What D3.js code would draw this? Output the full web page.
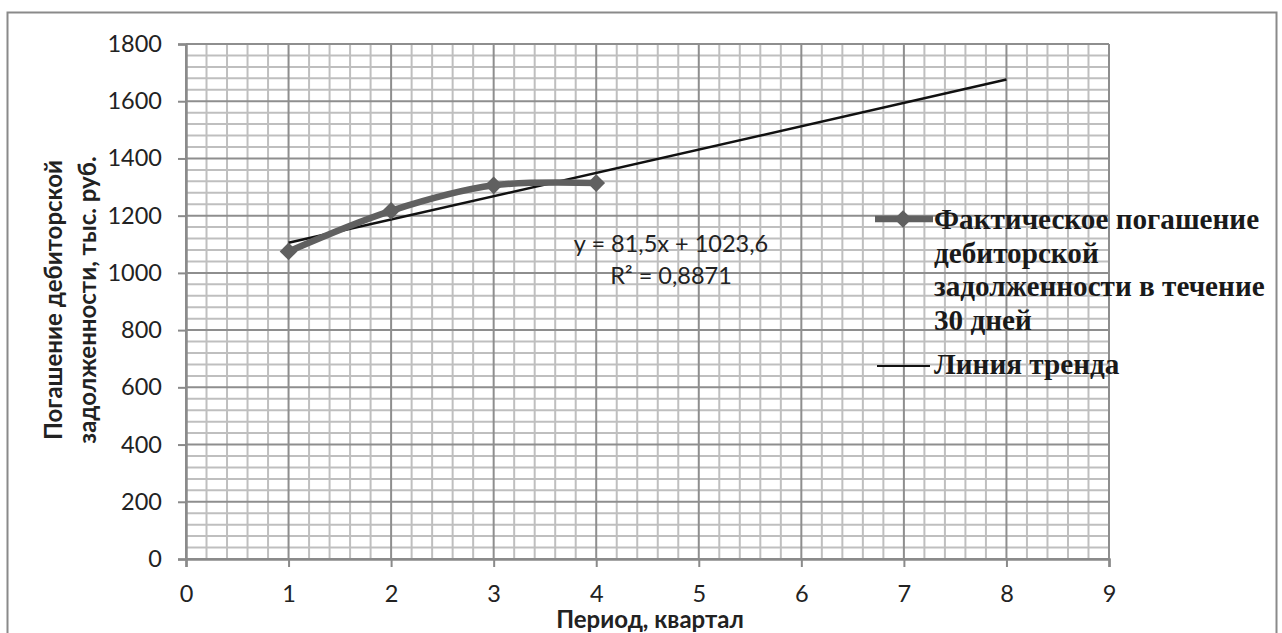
<!DOCTYPE html>
<html>
<head>
<meta charset="utf-8">
<script src="https://cdn.jsdelivr.net/npm/d3@7/dist/d3.min.js"></script>
<style>
  html, body { margin: 0; padding: 0; background: #fff; }
  svg { display: block; }
</style>
</head>
<body>
<svg id="chart" width="1282" height="633"></svg>
<script>
// ---- data ----
const quarters = [1, 2, 3, 4];
const actualValues = [1075, 1217, 1306, 1314];
const trendX = [1, 8];
const trendSlope = 81.5;
const trendIntercept = 1023.6;
const xTicks = [0, 1, 2, 3, 4, 5, 6, 7, 8, 9];
const yTicks = [0, 200, 400, 600, 800, 1000, 1200, 1400, 1600, 1800];
const seriesName = ["Фактическое погашение", "дебиторской", "задолженности в течение", "30 дней"];
const trendName = "Линия тренда";
const equationLines = ["y = 81,5x + 1023,6", "R² = 0,8871"];
const xTitle = "Период, квартал";
const yTitle = ["Погашение дебиторской", "задолженности, тыс. руб."];

// ---- layout ----
const svg = d3.select("#chart");
const pLeft = 186, pRight = 1109, pTop = 44, pBottom = 559;
const x = d3.scaleLinear().domain([0, 9]).range([pLeft, pRight]);
const y = d3.scaleLinear().domain([0, 1800]).range([pBottom, pTop]);
const sans = "Lato, 'Open Sans', sans-serif";
const serif = "'Liberation Serif', 'Times New Roman', serif";

// outer frame
svg.append("rect").attr("x", 7.5).attr("y", 12.5).attr("width", 1269).attr("height", 640)
  .attr("fill", "#fff").attr("stroke", "#8a8a8a").attr("stroke-width", 2);

// minor grid
const minorX = d3.range(0, 9.0001, 0.2).filter(v => Math.abs(v - Math.round(v)) > 1e-6);
const minorY = d3.range(0, 1800.001, 40).filter(v => v % 200 !== 0);
const grid = svg.append("g");
grid.append("g").selectAll("line").data(minorX).join("line")
  .attr("x1", d => x(d)).attr("x2", d => x(d)).attr("y1", pTop).attr("y2", pBottom)
  .attr("stroke", "#bfbfbf").attr("stroke-width", 2);
grid.append("g").selectAll("line").data(minorY).join("line")
  .attr("x1", pLeft).attr("x2", pRight).attr("y1", d => y(d)).attr("y2", d => y(d))
  .attr("stroke", "#bfbfbf").attr("stroke-width", 2);
// major grid
grid.append("g").selectAll("line").data(xTicks).join("line")
  .attr("x1", d => x(d)).attr("x2", d => x(d)).attr("y1", pTop).attr("y2", pBottom)
  .attr("stroke", "#8e8e8e").attr("stroke-width", 2);
grid.append("g").selectAll("line").data(yTicks).join("line")
  .attr("x1", pLeft).attr("x2", pRight).attr("y1", d => y(d)).attr("y2", d => y(d))
  .attr("stroke", "#8e8e8e").attr("stroke-width", 2);

// axes
const yAxis = svg.append("g").attr("transform", `translate(${pLeft},0)`)
  .call(d3.axisLeft(y).tickValues(yTicks).tickSize(8).tickPadding(16).tickFormat(d3.format("d")));
const xAxis = svg.append("g").attr("transform", `translate(0,${pBottom})`)
  .call(d3.axisBottom(x).tickValues(xTicks).tickSize(8).tickPadding(18).tickFormat(d3.format("d")));
[yAxis, xAxis].forEach(a => {
  a.select(".domain").attr("stroke", "#8a8a8a").attr("stroke-width", 2.5);
  a.selectAll(".tick line").attr("stroke", "#8a8a8a").attr("stroke-width", 2);
  a.selectAll(".tick text").attr("font-family", sans).attr("font-size", 23.5).attr("fill", "#222");
});

// trend line
const trendLine = d3.line().x(d => x(d)).y(d => y(trendSlope * d + trendIntercept));
svg.append("path").attr("d", trendLine(trendX)).attr("fill", "none")
  .attr("stroke", "#111").attr("stroke-width", 2.5);

// actual series (smoothed)
const pts = quarters.map((q, i) => [q, actualValues[i]]);
const line = d3.line().x(d => x(d[0])).y(d => y(d[1])).curve(d3.curveCatmullRom.alpha(0.5));
svg.append("path").attr("d", line(pts)).attr("fill", "none")
  .attr("stroke", "#606060").attr("stroke-width", 6.5).attr("stroke-linejoin", "round");
const diamond = d3.symbol().type(d3.symbolDiamond2).size(200);
svg.selectAll("path.marker").data(pts).join("path").attr("class", "marker")
  .attr("d", diamond).attr("transform", d => `translate(${x(d[0])},${y(d[1])})`)
  .attr("fill", "#606060");

// equation label
svg.append("g").selectAll("text").data(equationLines).join("text")
  .attr("x", 671).attr("y", (d, i) => 252 + i * 32)
  .attr("text-anchor", "middle").attr("font-family", sans).attr("font-size", 23.5).attr("fill", "#222")
  .text(d => d);

// legend
const leg = svg.append("g");
leg.append("line").attr("x1", 875).attr("x2", 933).attr("y1", 219).attr("y2", 219)
  .attr("stroke", "#606060").attr("stroke-width", 6.5);
leg.append("path").attr("d", diamond).attr("transform", "translate(903,219)").attr("fill", "#606060");
leg.append("g").selectAll("text").data(seriesName).join("text")
  .attr("x", 934).attr("y", (d, i) => 229 + i * 33.7)
  .attr("font-family", serif).attr("font-weight", "bold")
  .attr("font-size", 29.2).attr("fill", "#1a1a1a").text(d => d);
leg.append("line").attr("x1", 877).attr("x2", 930).attr("y1", 366).attr("y2", 366)
  .attr("stroke", "#111").attr("stroke-width", 2);
leg.append("text").attr("x", 934).attr("y", 374)
  .attr("font-family", serif).attr("font-weight", "bold")
  .attr("font-size", 29.2).attr("fill", "#1a1a1a").text(trendName);

// axis titles
svg.append("text").attr("x", 650).attr("y", 628).attr("text-anchor", "middle")
  .attr("font-family", sans).attr("font-weight", "bold").attr("font-size", 24).attr("fill", "#222")
  .text(xTitle);
svg.append("g").attr("transform", "translate(0,300) rotate(-90)")
  .selectAll("text").data(yTitle).join("text")
  .attr("x", 0).attr("y", (d, i) => 62 + i * 34).attr("text-anchor", "middle")
  .attr("font-family", sans).attr("font-weight", "bold").attr("font-size", 24).attr("fill", "#222")
  .text(d => d);
</script>
</body>
</html>
